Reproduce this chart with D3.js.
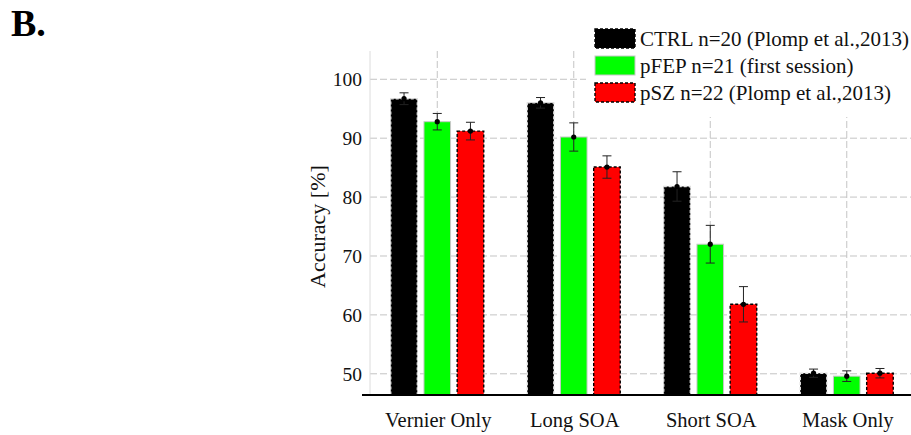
<!DOCTYPE html>
<html>
<head>
<meta charset="utf-8">
<script src="https://cdn.jsdelivr.net/npm/d3@7"></script>
<style>
  body { margin: 0; background: #fff; }
  svg { display: block; font-family: "Liberation Serif", "Times New Roman", serif; }
</style>
</head>
<body>
<div id="chart"></div>
<script>
// values (accuracy %, mean and s.e.m.)
const categories = ["Vernier Only", "Long SOA", "Short SOA", "Mask Only"]
const groups = ["CTRL n=20 (Plomp et al.,2013)", "pFEP n=21 (first session)", "pSZ n=22 (Plomp et al.,2013)"]
const ctrl = [96.7, 96.0, 81.8, 50.1]
const ctrlErr = [1.0, 0.9, 2.5, 0.7]
const fep = [92.8, 90.2, 72.0, 49.6]
const fepErr = [1.4, 2.4, 3.2, 0.9]
const sz = [91.2, 85.1, 61.8, 50.1]
const szErr = [1.5, 1.9, 3.0, 0.8]
const yTicks = [50, 60, 70, 80, 90, 100]

const width = 911, height = 435
const margin = {top: 51, bottom: 40, left: 369, right: -4}

const fills = ["#000000", "#00ff00", "#ff0000"]
const strokes = ["#e0e0e0", "#c8c8c8", "#000000"]
const dashes = ["3,2", null, "3,2"]

const svg = d3.select("#chart").append("svg")
    .attr("width", width)
    .attr("height", height)

const x = d3.scaleBand()
    .domain(categories)
    .range([margin.left, width - margin.right])
const offset = d3.scaleBand()
    .domain(d3.range(groups.length))
    .range([-46.5, 46.5])
    .paddingInner(0.2)
const y = d3.scaleLinear()
    .domain([46.4, 104.8])
    .range([height - margin.bottom, margin.top])

const series = [ctrl, fep, sz]
const errs = [ctrlErr, fepErr, szErr]

// grid
const grid = svg.append("g").attr("class", "grid")
grid.selectAll("line.h")
    .data(yTicks)
    .enter().append("line")
    .attr("class", "h")
    .attr("x1", margin.left + 1).attr("x2", width)
    .attr("y1", d => y(d)).attr("y2", d => y(d))
    .attr("stroke", "#c4c4c4").attr("stroke-dasharray", "7,3").attr("stroke-width", 1)
grid.selectAll("line.v")
    .data(categories)
    .enter().append("line")
    .attr("class", "v")
    .attr("x1", d => x(d) + x.bandwidth() / 2).attr("x2", d => x(d) + x.bandwidth() / 2)
    .attr("y1", margin.top).attr("y2", height - margin.bottom)
    .attr("stroke", "#c4c4c4").attr("stroke-dasharray", "7,3").attr("stroke-width", 1)
grid.append("line")
    .attr("x1", margin.left + 1).attr("x2", margin.left + 1)
    .attr("y1", margin.top).attr("y2", height - margin.bottom)
    .attr("stroke", "#dcdcdc")

// legend background covers the grid under it
svg.append("rect")
    .attr("x", 586).attr("y", 24)
    .attr("width", width - 586).attr("height", 93)
    .attr("fill", "#fff")

// bars
series.forEach((vals, gi) => {
    const g = svg.append("g").attr("class", "series-" + gi)
    const bw = offset.bandwidth()
    g.selectAll("rect")
        .data(categories)
        .enter().append("rect")
        .attr("x", (d, i) => x(d) + x.bandwidth() / 2 + offset(gi))
        .attr("y", (d, i) => y(vals[i]))
        .attr("width", bw)
        .attr("height", (d, i) => y(y.domain()[0]) - y(vals[i]))
        .attr("fill", fills[gi])
        .attr("stroke", strokes[gi])
        .attr("stroke-width", gi === 1 ? 1 : 1.4)
        .attr("stroke-dasharray", dashes[gi])

    const cx = (d) => x(d) + x.bandwidth() / 2 + offset(gi) + bw / 2
    const eb = g.selectAll("g.err")
        .data(categories)
        .enter().append("g").attr("class", "err")
    eb.append("line")
        .attr("x1", cx).attr("x2", cx)
        .attr("y1", (d, i) => y(vals[i] + errs[gi][i]))
        .attr("y2", (d, i) => y(vals[i] - errs[gi][i]))
        .attr("stroke", "#222").attr("stroke-width", 1)
    ;[1, -1].forEach(s => {
        eb.append("line")
            .attr("x1", d => cx(d) - 4.5).attr("x2", d => cx(d) + 4.5)
            .attr("y1", (d, i) => y(vals[i] + s * errs[gi][i]))
            .attr("y2", (d, i) => y(vals[i] + s * errs[gi][i]))
            .attr("stroke", "#222").attr("stroke-width", 1)
    })
    eb.append("circle")
        .attr("cx", cx)
        .attr("cy", (d, i) => y(vals[i]))
        .attr("r", 2.6)
        .attr("fill", "#000")
})

// x axis line
svg.append("line")
    .attr("x1", 362).attr("x2", width)
    .attr("y1", height - margin.bottom).attr("y2", height - margin.bottom)
    .attr("stroke", "#000").attr("stroke-width", 2)

// y tick labels
svg.append("g").selectAll("text")
    .data(yTicks)
    .enter().append("text")
    .attr("x", 362)
    .attr("y", d => y(d))
    .attr("dy", "0.35em")
    .attr("text-anchor", "end")
    .attr("font-size", 19.5)
    .attr("fill", "#111")
    .text(d => d)

// x labels
svg.append("g").selectAll("text")
    .data(categories)
    .enter().append("text")
    .attr("x", d => x(d) + x.bandwidth() / 2 + 1)
    .attr("y", 427)
    .attr("text-anchor", "middle")
    .attr("font-size", 20.5)
    .attr("fill", "#111")
    .text(d => d)

// y label
svg.append("text")
    .attr("transform", `translate(325,${y(75)}) rotate(-90)`)
    .attr("text-anchor", "middle")
    .attr("font-size", 22)
    .attr("fill", "#111")
    .text("Accuracy [%]")

// legend
const lg = svg.append("g").attr("class", "legend")
groups.forEach((name, gi) => {
    const ly = 29 + gi * 27
    lg.append("rect")
        .attr("x", 595).attr("y", ly)
        .attr("width", 40).attr("height", 19)
        .attr("fill", fills[gi])
        .attr("stroke", gi === 1 ? "#c8c8c8" : "#000")
        .attr("stroke-width", gi === 1 ? 1 : 1.4)
        .attr("stroke-dasharray", gi === 1 ? null : "3,2")
    lg.append("text")
        .attr("x", 640).attr("y", ly + 17)
        .attr("font-size", 21)
        .attr("fill", "#111")
        .text(name)
})

// panel letter
svg.append("text")
    .attr("x", 11).attr("y", 36)
    .attr("font-size", 38)
    .attr("font-weight", "bold")
    .attr("fill", "#000")
    .text("B.")
</script>
</body>
</html>
